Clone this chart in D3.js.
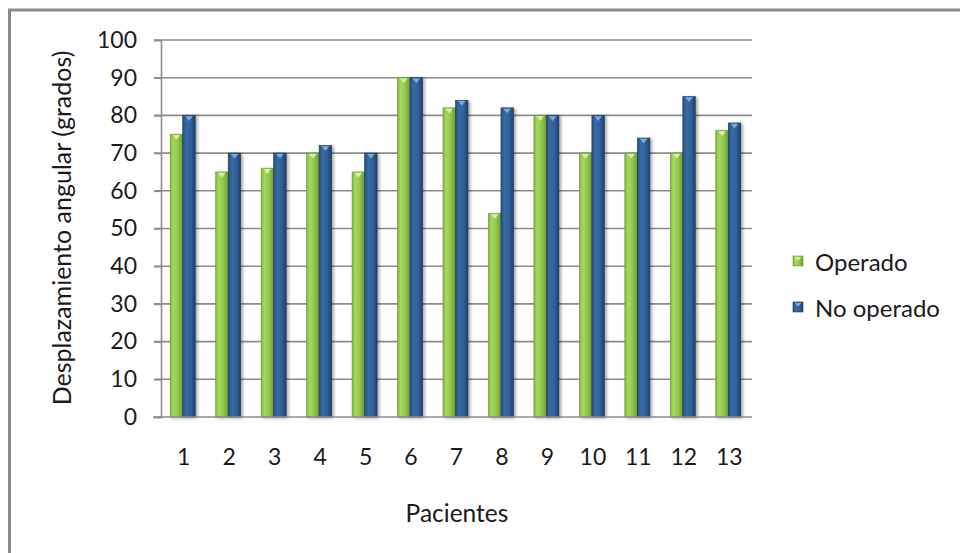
<!DOCTYPE html>
<html><head><meta charset="utf-8">
<script src="https://cdn.jsdelivr.net/npm/d3@7"></script>
<style>body{margin:0;background:#fff}svg{display:block}text{font-family:Lato,"Open Sans",sans-serif;fill:#1a1a1a}</style>
</head><body>
<svg id="c" width="960" height="553"></svg>
<script>
const categories = ["1","2","3","4","5","6","7","8","9","10","11","12","13"];
const seriesNames = ["Operado","No operado"];
const operado   = [75,65,66,70,65,90,82,54,80,70,70,70,76];
const noOperado = [80,70,70,72,70,90,84,82,80,80,74,85,78];
const yTicks = [0,10,20,30,40,50,60,70,80,90,100];
const yTitle = "Desplazamiento angular (grados)";
const xTitle = "Pacientes";

const svg = d3.select("#c");
const defs = svg.append("defs");
function grad(id, stops){
  const g = defs.append("linearGradient").attr("id",id).attr("x1","0").attr("x2","1").attr("y1","0").attr("y2","0");
  stops.forEach(s=>g.append("stop").attr("offset",s[0]).attr("stop-color",s[1]));
}
grad("gG",[[0,"#7fb43c"],[0.25,"#a5d862"],[0.6,"#92c94c"],[1,"#6f9f31"]]);
grad("gB",[[0,"#284f80"],[0.3,"#3a6aa3"],[0.65,"#30609a"],[1,"#1f3f68"]]);
const f = defs.append("filter").attr("id","sh").attr("x","-30%").attr("y","-5%").attr("width","180%").attr("height","115%");
f.append("feDropShadow").attr("dx",2).attr("dy",1).attr("stdDeviation",1.5).attr("flood-color","#000").attr("flood-opacity",0.35);

// outer border
svg.append("rect").attr("x",9.5).attr("y",10).attr("width",980).attr("height",600)
  .attr("fill","none").attr("stroke","#8a8a8a").attr("stroke-width",3);

const pL=161, pR=752, pT=40, pB=417;
const x = d3.scaleBand().domain(categories).range([pL,pR]).padding(0);
const inner = 25;
const xs = d3.scaleBand().domain(seriesNames).range([0,inner]).padding(0);
const y = d3.scaleLinear().domain([0,100]).range([pB,pT]);

// gridlines
svg.append("g").selectAll("line").data(yTicks.filter(d=>d>0)).join("line")
  .attr("x1",pL-7).attr("x2",pR).attr("y1",d=>y(d)).attr("y2",d=>y(d))
  .attr("stroke","#8c8c8c").attr("stroke-width",1.6);

// y axis
const ya = svg.append("g").attr("transform",`translate(${pL},0)`)
  .call(d3.axisLeft(y).tickValues(yTicks).tickSize(7).tickPadding(17));
ya.select(".domain").attr("stroke","#8c8c8c").attr("stroke-width",1.6);
ya.selectAll(".tick line").attr("stroke","#8c8c8c").attr("stroke-width",1.6);
ya.selectAll(".tick text").style("font-size","23px").attr("fill","#1a1a1a").attr("font-family","Lato");

const data = categories.map((c,i)=>({c, vals:[{s:"Operado",v:operado[i]},{s:"No operado",v:noOperado[i]}]}));
const gBars = svg.append("g");
const bw = xs.bandwidth();
data.forEach(d=>{
  const off = x(d.c) + (x.bandwidth()-inner)/2 - 1;
  d.vals.forEach(e=>{
    const bx = off + xs(e.s);
    const by = y(e.v);
    const h = pB - by;
    const isG = e.s==="Operado";
    gBars.append("rect").attr("x",bx).attr("y",by).attr("width",bw).attr("height",h)
      .attr("fill",isG?"url(#gG)":"url(#gB)").attr("stroke",isG?"#6a9a2e":"#1c3a60").attr("stroke-width",0.6)
      .attr("filter","url(#sh)");
    gBars.append("path").attr("d",`M${bx+2.5},${by+0.8}L${bx+bw-2.5},${by+0.8}L${bx+bw/2},${by+5.5}Z`)
      .attr("fill",isG?"#d6f0a8":"#7ea9dc");
  });
});

// x axis
const xa = svg.append("g").attr("transform",`translate(0,${pB})`)
  .call(d3.axisBottom(x).tickSize(0).tickPadding(32));
xa.select(".domain").remove();
svg.append("line").attr("x1",pL-8).attr("x2",pR).attr("y1",pB).attr("y2",pB)
  .attr("stroke","#8c8c8c").attr("stroke-width",1.6);
xa.selectAll(".tick text").style("font-size","23px").attr("fill","#1a1a1a").attr("font-family","Lato");

// titles
svg.append("text").attr("transform",`translate(71,228) rotate(-90)`).attr("text-anchor","middle")
  .style("font-size","25px").text(yTitle);
svg.append("text").attr("x",457).attr("y",522).attr("text-anchor","middle").style("font-size","24.5px").text(xTitle);

// legend
const lg = svg.append("g");
seriesNames.forEach((s,i)=>{
  const ly = 262 + i*46;
  lg.append("rect").attr("x",793).attr("y",ly-6).attr("width",10).attr("height",10)
    .attr("fill",i===0?"url(#gG)":"url(#gB)").attr("stroke",i===0?"#6a9a2e":"#1c3a60").attr("stroke-width",0.6);
  lg.append("path").attr("d",`M${794.5},${ly-5}L${801.5},${ly-5}L${798},${ly-1.5}Z`).attr("fill",i===0?"#d6f0a8":"#7ea9dc");
  lg.append("text").attr("x",815).attr("y",ly+9).style("font-size","24px").text(s);
});
</script>
</body></html>
